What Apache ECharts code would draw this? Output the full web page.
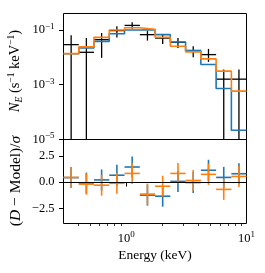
<!DOCTYPE html>
<html><head><meta charset="utf-8">
<script src="https://cdn.jsdelivr.net/npm/echarts@6/dist/echarts.min.js"></script>
<style>html,body{margin:0;padding:0;background:#fff}#c{width:265px;height:273px}</style>
</head><body><div id="c"></div>
<script>
// ---- data ----
const binEdges = [0.3, 0.402, 0.538, 0.721, 0.966, 1.295, 1.734, 2.323, 3.113, 4.170, 5.587, 7.484, 10.0];
const dataRate  = [0.0292, 0.0153, 0.0444, 0.095, 0.147, 0.0674, 0.0505, 0.0354, 0.0177, 0.0126, 0.00160, 0.00160];
const dataUpper = [0.0637, 0.051, 0.0778, 0.138, 0.192, 0.094, 0.0716, 0.051, 0.0254, 0.0204, 0.0036, 0.0036];
const dataLower = [0, 0, 0.0096, 0.053, 0.111, 0.041, 0.031, 0.0222, 0.0101, 0.00686, 0, 0]; // 0 = below axis
const modelBlue   = [0.0135, 0.0222, 0.0385, 0.0733, 0.100, 0.1026, 0.0674, 0.0366, 0.0177, 0.00547, 0.000733, 0.0000218];
const modelOrange = [0.0137, 0.0241, 0.0538, 0.100, 0.121, 0.105, 0.0538, 0.0254, 0.0158, 0.0088, 0.00313, 0.000585];
const residBlue   = [0.42, -0.10, 0.20, 0.65, 1.43, -1.25, -1.35, 0.06, -0.05, 1.12, 0.44, 0.79];
const residOrange = [0.44, -0.20, -0.30, -0.12, 0.82, -1.15, -0.40, 0.82, 0.15, 0.73, -0.70, 0.53];
const residErr = 1;
const xMajorTicks = [1, 10];
const xMinorTicks = [0.4, 0.5, 0.6, 0.7, 0.8, 0.9, 2, 3, 4, 5, 6, 7, 8, 9];
const yTopTicks = [1e-5, 1e-3, 1e-1];
const yBottomTicks = [-2.5, 0, 2.5];

const BLUE = '#1f77b4', ORANGE = '#ff7f0e';
const F = '"Liberation Serif", "DejaVu Serif", serif';
const TICK_FS = 12.5, SUP_FS = 9, TITLE_FS = 13.5;

const richTick = {
  b: { fontFamily: F, fontSize: TICK_FS, lineHeight: 16, color: '#000' },
  s: { fontFamily: F, fontSize: SUP_FS, lineHeight: 9, verticalAlign: 'top', color: '#000' }
};
function powLabel(v) {
  const e = Math.round(Math.log10(v));
  return '{b|10}{s|' + String(e).replace('-', '\u2212') + '}';
}
function titleRich(fs, sfs) {
  return {
    r: { fontFamily: F, fontSize: fs, lineHeight: fs + 4, fill: '#000' },
    i: { fontFamily: F, fontSize: fs, fontStyle: 'italic', lineHeight: fs + 4, fill: '#000' },
    sub: { fontFamily: F, fontSize: sfs, fontStyle: 'italic', lineHeight: sfs, verticalAlign: 'bottom', fill: '#000' },
    sup: { fontFamily: F, fontSize: sfs, lineHeight: sfs, verticalAlign: 'top', fill: '#000' }
  };
}

function stepPoints(model) {
  return binEdges.map((e, i) => [e, model[Math.min(i, model.length - 1)]]);
}
function crossData(vals, lo, hi) {
  return vals.map((v, i) => {
    const a = binEdges[i], b = binEdges[i + 1];
    return [a, b, Math.sqrt(a * b), v, lo[i], hi[i]];
  });
}
function crossRender(color, lw, isLog) {
  return function (params, api) {
    const cs = params.coordSys;
    const top = cs.y, bot = cs.y + cs.height;
    const clampY = y => Math.max(top, Math.min(bot, y));
    const y = api.value(3), lo = api.value(4), hi = api.value(5);
    const pa = api.coord([api.value(0), y]);
    const pb = api.coord([api.value(1), y]);
    const pc = api.coord([api.value(2), hi]);
    let yl;
    if (isLog && !(lo > 0)) yl = bot; else yl = api.coord([api.value(2), lo])[1];
    const st = { stroke: color, lineWidth: lw };
    return {
      type: 'group',
      children: [
        { type: 'line', shape: { x1: pa[0], y1: clampY(pa[1]), x2: pb[0], y2: clampY(pb[1]) }, style: st },
        { type: 'line', shape: { x1: pc[0], y1: clampY(pc[1]), x2: pc[0], y2: clampY(yl) }, style: st }
      ]
    };
  };
}

const chart = echarts.init(document.getElementById('c'), null, { renderer: 'canvas' });
const gridCommon = { show: true, borderColor: '#000', borderWidth: 1, backgroundColor: 'transparent', containLabel: false, outerBoundsMode: 'none' };
const xBase = { type: 'log', logBase: 10, min: binEdges[0], max: binEdges[binEdges.length - 1], splitLine: { show: false }, axisLine: { show: false } };

chart.setOption({
  animation: false,
  backgroundColor: '#fff',
  grid: [
    Object.assign({ left: 63.5, top: 13.5, width: 183, height: 126 }, gridCommon),
    Object.assign({ left: 63.5, top: 139.5, width: 183, height: 84 }, gridCommon)
  ],
  xAxis: [
    Object.assign({ gridIndex: 0, axisTick: { show: false }, axisLabel: { show: false } }, xBase),
    Object.assign({ gridIndex: 1, position: 'bottom',
      axisTick: { show: true, inside: false, length: 4.5, customValues: xMajorTicks, lineStyle: { color: '#000', width: 1 } },
      axisLabel: { show: true, customValues: xMajorTicks, margin: 7, formatter: powLabel, rich: richTick, color: '#000', fontFamily: F, fontSize: TICK_FS },
      name: 'Energy (keV)', nameLocation: 'middle', nameGap: 25,
      nameTextStyle: { fontFamily: F, fontSize: TITLE_FS, color: '#000' } }, xBase),
    Object.assign({ gridIndex: 1, position: 'bottom',
      axisTick: { show: true, inside: false, length: 2.5, customValues: xMinorTicks, lineStyle: { color: '#000', width: 0.8 } },
      axisLabel: { show: false } }, xBase)
  ],
  yAxis: [
    { gridIndex: 0, type: 'log', logBase: 10, min: 1e-5, max: 0.4, splitLine: { show: false }, axisLine: { show: false },
      axisTick: { show: true, inside: false, length: 4.5, customValues: yTopTicks, lineStyle: { color: '#000', width: 1 } },
      axisLabel: { customValues: yTopTicks, margin: 9, formatter: powLabel, rich: richTick, color: '#000', fontFamily: F, fontSize: TICK_FS } },
    { gridIndex: 1, type: 'value', min: -3.95, max: 4.05, splitLine: { show: false }, axisLine: { show: false },
      axisTick: { show: true, inside: false, length: 4.5, customValues: yBottomTicks, lineStyle: { color: '#000', width: 1 } },
      axisLabel: { customValues: yBottomTicks, margin: 9, color: '#000', fontFamily: F, fontSize: TICK_FS,
        formatter: v => (v < 0 ? '\u2212' : '') + Math.abs(v).toFixed(1) } }
  ],
  graphic: [
    { type: 'text', x: 15.5, y: 71, rotation: Math.PI / 2,
      style: { text: '{i|N}{sub|E}{r| (s}{sup|\u22121}{r| keV}{sup|\u22121}{r|)}', align: 'center', verticalAlign: 'middle',
        fill: '#000', fontFamily: F, fontSize: 14.5, rich: titleRich(14.5, 9.5) } },
    { type: 'text', x: 15.5, y: 181, rotation: Math.PI / 2,
      style: { text: '{r|(}{i|D}{r| \u2212 Model)/}{i|\u03c3}', align: 'center', verticalAlign: 'middle',
        fill: '#000', fontFamily: F, fontSize: 15.5, rich: titleRich(15.5, 10) } }
  ],
  series: [
    { name: 'model A', type: 'line', xAxisIndex: 0, yAxisIndex: 0, step: 'end', symbol: 'none',
      lineStyle: { color: BLUE, width: 1.6 }, data: stepPoints(modelBlue) },
    { name: 'model B', type: 'line', xAxisIndex: 0, yAxisIndex: 0, step: 'end', symbol: 'none',
      lineStyle: { color: ORANGE, width: 1.6 }, data: stepPoints(modelOrange) },
    { name: 'data', type: 'custom', xAxisIndex: 0, yAxisIndex: 0, encode: { x: 2, y: 3 },
      renderItem: crossRender('#000', 1.3, true), data: crossData(dataRate, dataLower, dataUpper) },
    { name: 'resid A', type: 'custom', xAxisIndex: 1, yAxisIndex: 1, encode: { x: 2, y: 3 },
      renderItem: crossRender(BLUE, 1.6, false),
      data: crossData(residBlue, residBlue.map(r => r - residErr), residBlue.map(r => r + residErr)),
      markLine: { silent: true, symbol: 'none', label: { show: false }, animation: false,
        lineStyle: { color: '#000', width: 1, type: 'solid' }, data: [{ yAxis: 0 }] } },
    { name: 'resid B', type: 'custom', xAxisIndex: 1, yAxisIndex: 1, encode: { x: 2, y: 3 },
      renderItem: crossRender(ORANGE, 1.6, false),
      data: crossData(residOrange, residOrange.map(r => r - residErr), residOrange.map(r => r + residErr)) }
  ]
});
</script></body></html>
